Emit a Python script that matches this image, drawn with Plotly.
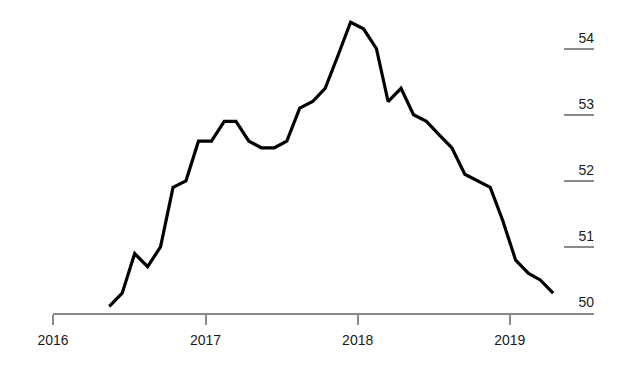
import plotly.graph_objects as go
import pandas as pd

# Monthly values, May 2016 – Apr 2019 (plotted mid-month)
months = pd.date_range("2016-05-01", "2019-04-01", freq="MS") + pd.Timedelta(days=14)
values = [
    50.1, 50.3, 50.9, 50.7, 51.0, 51.9, 52.0, 52.6,          # May–Dec 2016
    52.6, 52.9, 52.9, 52.6, 52.5, 52.5, 52.6, 53.1, 53.2, 53.4, 53.9, 54.4,  # 2017
    54.3, 54.0, 53.2, 53.4, 53.0, 52.9, 52.7, 52.5, 52.1, 52.0, 51.9, 51.4,  # 2018
    50.8, 50.6, 50.5, 50.3,                                     # Jan–Apr 2019
]
x_ticks = ["2016-01-01", "2017-01-01", "2018-01-01", "2019-01-01"]
x_tick_labels = ["2016", "2017", "2018", "2019"]
y_ticks = [50, 51, 52, 53, 54]
y_tick_labels = ["50", "51", "52", "53", "54"]

FONT = "Liberation Sans, Arial, Helvetica, sans-serif"
GRAY = "#8a8a8a"

fig = go.Figure()
fig.add_trace(go.Scatter(
    x=months, y=values, mode="lines",
    line=dict(color="#000000", width=3.2),
    hoverinfo="skip", showlegend=False,
))

fig.update_layout(
    width=636, height=371,
    margin=dict(l=53, r=42, t=9, b=58),
    paper_bgcolor="white", plot_bgcolor="white",
    font=dict(family=FONT, size=14, color="#1a1a1a"),
    xaxis=dict(
        range=["2016-01-01", "2019-07-22"],
        tickvals=x_ticks, ticktext=x_tick_labels,
        showgrid=False, zeroline=False,
        showline=True, linecolor=GRAY, linewidth=2,
        ticks="outside", ticklen=10, tickwidth=1.5, tickcolor=GRAY,
        ticklabelstandoff=3,
        tickfont=dict(family=FONT, size=14, color="#1a1a1a"),
    ),
    yaxis=dict(
        range=[50, 54.6], side="right",
        tickvals=y_ticks, ticktext=y_tick_labels,
        showgrid=False, zeroline=False, showline=False,
        ticks="inside", ticklen=30, tickwidth=1.5, tickcolor=GRAY,
        ticklabelposition="inside top",
        ticklabelstandoff=-3,
        tickfont=dict(family=FONT, size=14, color="#1a1a1a"),
    ),
)

fig.write_html("out.html")
